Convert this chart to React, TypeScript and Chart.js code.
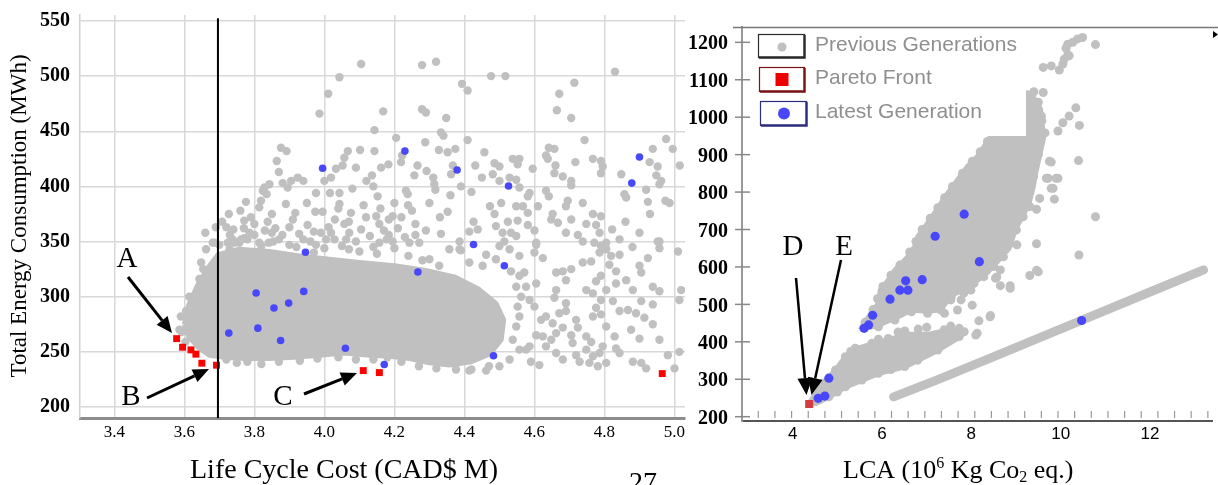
import React, { useEffect, useRef } from "react";
import { Chart, registerables } from "chart.js";
Chart.register(...registerables);

type Pt = [number, number];

// ---------- shared ----------
const seriesLabels = ["Previous Generations", "Pareto Front", "Latest Generation"];
const GRAY = "#c0c0c0";
const BLUE = "rgb(72,72,250)";
const RED = "#ff0000";
const RED2 = "#d23c3c";
const SERIF = '"Liberation Serif", "Times New Roman", serif';
const SANS = '"Liberation Sans", Arial, sans-serif';

// ---------- left chart: Life Cycle Cost vs Energy ----------
const lccTicks = [3.4, 3.6, 3.8, 4.0, 4.2, 4.4, 4.6, 4.8, 5.0];
const energyTicks = [200, 250, 300, 350, 400, 450, 500, 550];

const lccPareto: Pt[] = [
  [3.578, 262], [3.595, 254.2], [3.619, 251.8], [3.633, 247.9], [3.65, 239.7],
  [3.692, 237.9], [4.111, 233], [4.157, 231.2], [4.965, 230.3],
];

const lccLatest: Pt[] = [
  [3.727, 267], [3.805, 303.3], [3.81, 271.5], [3.856, 289.7], [3.898, 294.2],
  [3.875, 260.3], [3.941, 304.8], [3.946, 340.3], [4.06, 253.3], [4.171, 238.5],
  [3.995, 416.4], [4.23, 432], [4.379, 414.9], [4.526, 400.3], [4.267, 322.4],
  [4.426, 347.3], [4.514, 328], [4.483, 246.4], [4.9, 426.7], [4.878, 403],
];

const lccLimit: Pt[] = [[3.696, 190], [3.696, 552.5]];

const lccPreviousCore: Pt[] = [
  [3.6, 275], [3.612, 292], [3.637, 310], [3.665, 325], [3.696, 338], [3.757, 343],
  [3.843, 341], [3.929, 337], [4.014, 334], [4.1, 331], [4.2, 328], [4.286, 324],
  [4.371, 318], [4.44, 307], [4.49, 294], [4.512, 279], [4.505, 261], [4.472, 248],
  [4.42, 241], [4.357, 238], [4.3, 240], [4.243, 244], [4.186, 246], [4.129, 247],
  [4.057, 249], [3.986, 247], [3.914, 245], [3.843, 244], [3.771, 244], [3.714, 245],
  [3.671, 247], [3.64, 254], [3.612, 264], [3.6, 275],
];

const lccPrevious: Pt[] = [
  [4.105, 511], [4.279, 510], [4.043, 499], [4.011, 484], [3.986, 466], [4.168, 468], [4.279, 470], [4.29, 467],
  [4.143, 451], [4.205, 444], [4.288, 440], [3.876, 435], [3.892, 432], [3.864, 423], [4.067, 432], [4.057, 426],
  [4.102, 433], [4.143, 432], [4.222, 428], [4.219, 422], [3.87, 413], [3.924, 408], [3.94, 405], [3.905, 405],
  [3.881, 403], [3.843, 402], [3.829, 399], [3.835, 393], [3.824, 396], [3.895, 399], [3.976, 394], [4.016, 394],
  [4.043, 394], [4.043, 384], [4.09, 417], [4.033, 416], [4.019, 408], [4.052, 419], [4.136, 410], [4.14, 400],
  [4.162, 417], [4.183, 420], [4.257, 410], [4.266, 419], [4.292, 414], [4.233, 396], [4.238, 393], [4.239, 383],
  [4.152, 391], [4.112, 383], [4.076, 376], [4.119, 372], [4.148, 373], [4.184, 370], [4.195, 373], [4.26, 366],
  [4.29, 360], [3.776, 386], [3.819, 387], [3.814, 381], [3.727, 375], [3.708, 368], [3.771, 369], [3.8, 366],
  [3.838, 368], [3.917, 376], [3.974, 377], [3.995, 377], [3.9, 363], [3.952, 365], [3.97, 359], [3.928, 357],
  [4.012, 363], [4.019, 358], [4.029, 352], [4.057, 366], [4.071, 358], [4.105, 361], [4.157, 366], [4.184, 356],
  [4.178, 352], [3.786, 358], [3.762, 352], [3.743, 349], [3.686, 349], [3.724, 349], [3.814, 349], [3.841, 349],
  [3.854, 350], [4.005, 352], [3.976, 347], [4.062, 352], [4.157, 349], [4.195, 350], [4.243, 349], [4.271, 349],
  [4.319, 513], [4.476, 500], [4.517, 500], [4.393, 493], [4.409, 487], [4.83, 504], [4.714, 494], [4.671, 484],
  [4.664, 469], [4.705, 462], [4.348, 462], [4.333, 449], [4.34, 446], [4.409, 442], [4.327, 433], [4.352, 431],
  [4.374, 434], [4.457, 431], [4.311, 408], [4.314, 402], [4.317, 397], [4.39, 400], [4.367, 419], [4.362, 411],
  [4.431, 419], [4.486, 421], [4.5, 418], [4.538, 425], [4.557, 425], [4.552, 420], [4.481, 411], [4.5, 405],
  [4.529, 408], [4.548, 406], [4.557, 399], [4.595, 416], [4.641, 435], [4.657, 434], [4.633, 428], [4.638, 425],
  [4.66, 419], [4.657, 412], [4.681, 409], [4.705, 405], [4.705, 401], [4.717, 422], [4.743, 442], [4.767, 425],
  [4.79, 423], [4.795, 418], [4.79, 412], [4.848, 411], [4.857, 393], [4.862, 390], [4.919, 397], [4.924, 386],
  [4.929, 422], [4.938, 434], [4.952, 418], [4.948, 410], [4.962, 405], [4.957, 402], [4.974, 387], [4.986, 385],
  [4.976, 443], [4.995, 434], [5.015, 419], [4.586, 394], [4.581, 391], [4.633, 396], [4.641, 391], [4.69, 382],
  [4.695, 387], [4.738, 385], [4.473, 382], [4.505, 385], [4.548, 382], [4.567, 382], [4.581, 376], [4.352, 377],
  [4.486, 375], [4.524, 368], [4.552, 369], [4.581, 365], [4.49, 364], [4.509, 358], [4.533, 358], [4.548, 355],
  [4.514, 350], [4.426, 368], [4.414, 359], [4.438, 361], [4.386, 350], [4.333, 357], [4.652, 375], [4.648, 370],
  [4.667, 367], [4.705, 370], [4.767, 375], [4.79, 373], [4.748, 366], [4.776, 365], [4.786, 358], [4.822, 361],
  [4.843, 352], [4.724, 356], [4.738, 350], [4.771, 349], [4.805, 349], [4.957, 350], [5.01, 341], [4.805, 343],
  [4.605, 349], [4.357, 343], [4.39, 342], [4.462, 338],
  [4.605, 347], [4.6, 340], [4.624, 335], [4.662, 322], [4.681, 323], [4.705, 325], [4.69, 315], [4.662, 306],
  [4.657, 299], [4.69, 294], [4.69, 287], [4.738, 331], [4.762, 332], [4.786, 340], [4.79, 346], [4.819, 337],
  [4.843, 338], [4.814, 329], [4.833, 323], [4.79, 319], [4.776, 314], [4.748, 306], [4.767, 303], [4.79, 297],
  [4.805, 306], [4.833, 312], [4.862, 315], [4.881, 306], [4.9, 328], [4.924, 335], [4.905, 322], [4.938, 309],
  [4.957, 305], [4.952, 350], [4.957, 344], [5.019, 306], [5.014, 297], [4.938, 293], [4.905, 296], [4.867, 288],
  [4.89, 285], [4.914, 281], [4.843, 287], [4.824, 296], [4.776, 290], [4.767, 282], [4.79, 284], [4.805, 273],
  [4.829, 264], [4.876, 270], [4.9, 262], [4.938, 275], [4.957, 261], [4.981, 247], [5.014, 250], [5.0, 235],
  [4.919, 235], [4.905, 240], [4.881, 241], [4.843, 249], [4.833, 253], [4.795, 255], [4.786, 249], [4.767, 246],
  [4.748, 252], [4.719, 247], [4.729, 241], [4.709, 258], [4.705, 265], [4.681, 272], [4.662, 267], [4.648, 261],
  [4.633, 255], [4.624, 264], [4.605, 265], [4.619, 279], [4.633, 282], [4.652, 276], [4.671, 285], [4.719, 279],
  [4.724, 272], [4.748, 264], [4.762, 259], [4.805, 240], [4.781, 237], [4.757, 240], [4.681, 243], [4.662, 249],
  [4.614, 238], [4.59, 241], [4.586, 255], [4.576, 252], [4.6, 291], [4.586, 297], [4.576, 309], [4.571, 322],
  [4.605, 312],
  [4.386, 343], [4.5, 346], [4.529, 343], [4.557, 337], [4.3, 334], [4.328, 328], [4.414, 331], [4.452, 328],
  [4.49, 334], [4.533, 323], [4.557, 319], [4.548, 309], [4.562, 300], [4.552, 291], [4.557, 282], [4.548, 273],
  [4.538, 261], [4.557, 252], [4.529, 243], [4.5, 237], [4.462, 233], [4.414, 233], [4.376, 234],
  [3.648, 331], [3.654, 325], [3.681, 349], [3.7, 347], [3.729, 343], [3.643, 316], [3.614, 300], [3.605, 287],
  [3.59, 282], [3.586, 270], [3.662, 343], [3.738, 352], [3.757, 349], [3.771, 353], [3.592, 268], [3.603, 259],
  [3.72, 243], [3.75, 240], [3.78, 241], [3.82, 239], [3.87, 241], [3.93, 242], [3.98, 244], [4.04, 245],
  [4.09, 243], [4.14, 243], [4.18, 245], [4.22, 241], [4.27, 237], [4.32, 235], [4.42, 234], [4.47, 237],
  [3.78, 352], [3.82, 346], [3.87, 352], [3.92, 345], [3.96, 350], [4.0, 344], [4.05, 346], [4.1, 341],
  [4.15, 339], [4.2, 344], [4.24, 337], [4.28, 333],
  [3.66, 358], [3.69, 363], [3.74, 361], [3.85, 358], [3.89, 384], [3.95, 385], [4.0, 405], [4.08, 398],
  [4.12, 405], [4.2, 385], [4.25, 378], [4.3, 385], [4.33, 372], [4.36, 392], [4.42, 395], [4.45, 408],
  [4.61, 382], [4.6, 360], [4.69, 358], [4.86, 368], [4.9, 358], [4.93, 375], [4.88, 345],
  [3.73, 356], [3.77, 362], [3.79, 372], [3.83, 360], [3.86, 362], [3.88, 356], [3.91, 370], [3.94, 352],
  [3.99, 358], [4.03, 370], [4.07, 368], [4.09, 350], [4.13, 355], [4.17, 360], [4.21, 362], [4.23, 354],
  [4.26, 356], [4.14, 345], [4.07, 343], [3.97, 340], [3.9, 347], [3.8, 356], [3.72, 363], [3.76, 378],
  [3.85, 375], [4.04, 380], [4.16, 380], [4.22, 372],
];

// ---------- right chart: LCA vs Energy ----------
const lcaTicks = [4, 6, 8, 10, 12];
const lcaEnergyTicks = [200, 300, 400, 500, 600, 700, 800, 900, 1000, 1100, 1200];

const lcaPareto: Pt[] = [[4.37, 234]];

const lcaLatest: Pt[] = [
  [7.84, 741], [7.19, 682], [8.18, 614], [6.9, 566], [6.53, 563], [6.4, 538], [6.58, 538],
  [6.18, 514], [5.79, 471], [5.7, 445], [5.6, 436], [4.81, 303], [4.72, 255], [4.57, 249], [10.47, 457],
];

const lcaUpperCore: Pt[] = [
  [5.51, 432], [5.7, 467], [5.92, 503], [5.96, 538], [6.14, 565], [6.29, 592], [6.58, 627], [6.73, 654],
  [6.8, 681], [7.02, 717], [7.17, 743], [7.32, 770], [7.47, 797], [7.69, 832], [7.91, 868], [8.13, 894],
  [8.28, 921], [8.43, 948], [8.65, 979], [8.91, 1020], [9.18, 1051], [9.35, 1062], [9.55, 1022], [9.62, 945],
  [9.45, 856], [9.38, 810], [9.28, 765], [9.0, 703], [8.84, 649], [8.5, 603], [8.28, 576], [7.85, 541],
  [7.54, 523], [7.31, 484], [6.96, 482], [6.65, 484], [6.3, 463], [5.92, 445], [5.51, 432],
];

const lcaLowerCore: Pt[] = [
  [4.37, 236], [4.67, 289], [4.96, 325], [5.18, 360], [5.4, 381], [5.77, 394], [6.14, 406], [6.58, 420],
  [7.02, 420], [7.39, 429], [7.73, 432], [7.84, 425], [7.73, 412], [7.25, 377], [6.8, 350], [6.51, 333],
  [5.92, 315], [5.55, 297], [5.18, 279], [4.81, 252], [4.52, 235], [4.37, 236],
];

const lcaBand: Pt[] = [[6.26, 253], [7.25, 299], [8.6, 365], [10.48, 458], [12.0, 533], [13.2, 592]];

const lcaPrevious: Pt[] = [
  [5.62, 452], [5.8, 486], [5.9, 515], [6.02, 548], [6.2, 578], [6.4, 605], [6.62, 640], [6.76, 668],
  [6.9, 700], [7.08, 730], [7.25, 758], [7.4, 785], [7.58, 815], [7.8, 850], [8.02, 882], [8.2, 908],
  [8.36, 935], [8.52, 962],
  [9.39, 841], [9.31, 761], [9.16, 734], [9.01, 699], [8.87, 663], [8.72, 627], [8.5, 601], [8.28, 574],
  [8.06, 556], [7.83, 530], [7.54, 512], [7.32, 485], [7.02, 476], [6.66, 480], [6.29, 458], [5.92, 440],
  [9.5, 900], [9.58, 990], [9.5, 1040], [9.4, 1068], [9.25, 1060],
  [10.49, 1213], [10.78, 1194], [10.38, 1209], [10.27, 1200], [10.16, 1195], [10.12, 1184], [10.16, 1166],
  [10.19, 1164], [10.08, 1155], [10.05, 1142], [9.97, 1126], [9.79, 1137], [9.61, 1133], [9.61, 1066],
  [9.31, 1049], [9.46, 998], [9.57, 1003], [9.39, 985], [9.24, 963], [9.39, 936], [9.65, 958], [10.34, 1025],
  [10.42, 978], [10.19, 1003], [10.05, 985], [9.94, 963], [9.79, 880], [10.4, 884], [9.72, 837], [9.94, 837],
  [9.79, 810], [9.86, 781], [9.46, 754], [10.78, 734], [9.75, 882], [9.68, 837], [9.9, 837], [9.83, 810],
  [9.53, 783], [9.46, 662], [9.31, 577], [9.46, 591], [8.87, 550], [8.65, 550], [8.57, 573], [8.43, 470],
  [8.17, 456], [8.13, 423], [10.41, 632], [9.02, 659], [9.5, 587], [8.65, 592], [8.54, 570], [8.87, 543],
  [8.42, 467], [8.1, 418], [8.02, 498], [8.35, 592], [7.55, 520], [7.77, 512], [7.99, 538], [7.4, 476],
  [7.69, 485],
  [4.67, 289], [4.96, 325], [5.18, 360], [5.4, 383], [5.77, 396], [6.14, 409], [6.36, 426], [6.51, 429],
  [6.81, 434], [7.0, 439], [7.39, 432], [7.54, 442], [7.73, 436], [5.3, 374], [5.92, 407],
  [4.81, 253], [5.18, 280], [5.55, 298], [5.92, 316], [6.51, 334], [6.8, 351], [7.25, 378], [7.73, 414],
  [7.84, 427], [6.2, 326], [5.0, 266],
];

// ---------- helpers ----------
const xy = (a: Pt[]) => a.map(([x, y]) => ({ x, y }));

function drawArrow(
  ctx: CanvasRenderingContext2D, x1: number, y1: number, x2: number, y2: number,
  lw: number, head: number, half: number
) {
  const ang = Math.atan2(y2 - y1, x2 - x1);
  const bx = x2 - head * Math.cos(ang);
  const by = y2 - head * Math.sin(ang);
  ctx.beginPath();
  ctx.moveTo(x1, y1);
  ctx.lineTo(bx, by);
  ctx.lineWidth = lw;
  ctx.strokeStyle = "#000";
  ctx.stroke();
  ctx.beginPath();
  ctx.moveTo(x2, y2);
  ctx.lineTo(bx + half * Math.sin(ang), by - half * Math.cos(ang));
  ctx.lineTo(bx - half * Math.sin(ang), by + half * Math.cos(ang));
  ctx.closePath();
  ctx.fillStyle = "#000";
  ctx.fill();
}

const leftDecor = {
  id: "leftDecor",
  afterDraw(chart: any) {
    const ctx: CanvasRenderingContext2D = chart.ctx;
    ctx.save();
    ctx.fillStyle = "#000";
    ctx.save();
    ctx.translate(20, 216);
    ctx.rotate(-Math.PI / 2);
    ctx.font = `23px ${SERIF}`;
    ctx.textAlign = "center";
    ctx.textBaseline = "middle";
    ctx.fillText("Total Energy Consumption (MWh)", 0, 0);
    ctx.restore();
    ctx.textAlign = "center";
    ctx.textBaseline = "alphabetic";
    ctx.font = `28px ${SERIF}`;
    ctx.fillText("Life Cycle Cost (CAD$ M)", 344, 478);
    ctx.fillText("27", 643, 491);
    ctx.font = `29px ${SERIF}`;
    ctx.fillText("A", 127, 267);
    ctx.fillText("B", 131, 405);
    ctx.fillText("C", 283, 405);
    drawArrow(ctx, 128, 277, 172, 333, 3, 16, 7);
    drawArrow(ctx, 147, 398, 209, 369, 3, 16, 7);
    drawArrow(ctx, 304, 394, 357, 373, 3, 16, 7);
    ctx.restore();
  },
};

const RIGHT_LEFT = 685;

const rightDecor = {
  id: "rightDecor",
  afterDatasetsDraw(chart: any) {
    const ctx: CanvasRenderingContext2D = chart.ctx;
    ctx.save();
    ctx.translate(-RIGHT_LEFT, 0);
    ctx.fillStyle = "#fff";
    ctx.fillRect(751, 28.5, 275, 107.5);
    const rows = [
      { box: [758, 34, 46, 23], border: "#2a2a2a", y: 45.5 },
      { box: [759, 67, 45, 24], border: "#7a1414", y: 78.5 },
      { box: [760, 101, 46, 24], border: "#2c2c80", y: 112 },
    ];
    rows.forEach((r, i) => {
      const [bx, by, bw, bh] = r.box;
      ctx.fillStyle = "#fff";
      ctx.fillRect(bx, by, bw, bh);
      ctx.strokeStyle = r.border;
      ctx.lineWidth = 1.2;
      ctx.strokeRect(bx + 0.5, by + 0.5, bw, bh);
      ctx.lineWidth = 2.4;
      ctx.beginPath();
      ctx.moveTo(bx + 1, by + bh + 0.5);
      ctx.lineTo(bx + bw + 0.5, by + bh + 0.5);
      ctx.lineTo(bx + bw + 0.5, by + 1);
      ctx.stroke();
      const cx = bx + 24;
      const cy = by + bh / 2 + 0.5;
      if (i === 0) {
        ctx.fillStyle = GRAY;
        ctx.beginPath();
        ctx.arc(cx, cy + 1, 4.5, 0, Math.PI * 2);
        ctx.fill();
      } else if (i === 1) {
        ctx.fillStyle = "#ee0000";
        ctx.fillRect(cx - 7.5, cy - 6.5, 13, 13);
      } else {
        ctx.fillStyle = BLUE;
        ctx.beginPath();
        ctx.arc(cx, cy, 6, 0, Math.PI * 2);
        ctx.fill();
      }
      ctx.fillStyle = "#8f8f8f";
      ctx.font = `21px ${SANS}`;
      ctx.textAlign = "left";
      ctx.textBaseline = "middle";
      ctx.fillText(seriesLabels[i], 815, r.y);
    });
    ctx.restore();
  },
  afterDraw(chart: any) {
    const ctx: CanvasRenderingContext2D = chart.ctx;
    const ys = chart.scales.y;
    ctx.save();
    ctx.translate(-RIGHT_LEFT, 0);
    ctx.strokeStyle = "#777";
    ctx.lineWidth = 1.5;
    ctx.beginPath();
    ctx.moveTo(733, 27.5);
    ctx.lineTo(1218, 27.5);
    ctx.stroke();
    ctx.strokeStyle = "#888";
    ctx.lineWidth = 1.5;
    lcaEnergyTicks.forEach((v) => {
      const py = ys.getPixelForValue(v);
      ctx.beginPath();
      ctx.moveTo(735, py);
      ctx.lineTo(750, py);
      ctx.stroke();
    });
    ctx.strokeStyle = "#999";
    ctx.lineWidth = 1.2;
    for (let px = 758.3; px < 1216; px += 16.65) {
      ctx.beginPath();
      ctx.moveTo(px, 411);
      ctx.lineTo(px, 418);
      ctx.stroke();
    }
    ctx.fillStyle = "#000";
    ctx.font = `29px ${SERIF}`;
    ctx.textAlign = "center";
    ctx.textBaseline = "alphabetic";
    ctx.fillText("D", 793, 255);
    ctx.fillText("E", 844, 255);
    drawArrow(ctx, 796, 278, 806.5, 395, 2.5, 17, 7.5);
    drawArrow(ctx, 841, 260, 811.5, 395, 2.5, 17, 7.5);
    ctx.textAlign = "left";
    let x = 843;
    const base = 478;
    const parts: [string, number, number][] = [
      ["LCA (10", 26, 0], ["6", 16, -10], [" Kg Co", 26, 0], ["2", 16, 4], [" eq.)", 26, 0],
    ];
    parts.forEach(([t, s, dy]) => {
      ctx.font = `${s}px ${SERIF}`;
      ctx.fillText(t, x, base + dy);
      x += ctx.measureText(t).width;
    });
    ctx.beginPath();
    ctx.moveTo(1213, 31);
    ctx.lineTo(1218, 34.5);
    ctx.lineTo(1213, 38);
    ctx.closePath();
    ctx.fill();
    ctx.restore();
  },
};

const fitY = (w: number) => (s: any) => {
  s.width = w;
  s.paddingTop = 0;
  s.paddingBottom = 0;
};
const fitX = (h: number) => (s: any) => {
  s.height = h;
  s.paddingLeft = 0;
  s.paddingRight = 0;
};

export default function App() {
  const leftRef = useRef<HTMLCanvasElement>(null);
  const rightRef = useRef<HTMLCanvasElement>(null);

  useEffect(() => {
    document.body.style.margin = "0";
    const pointDs = (label: string, data: Pt[], color: string, r: number, order: number, style = "circle") => ({
      label, data: xy(data), backgroundColor: color, pointBackgroundColor: color,
      pointRadius: r, pointBorderWidth: 0, pointStyle: style, order,
    });
    const shapeDs = (label: string, data: Pt[], order: number) => ({
      label, data: xy(data), showLine: true, fill: "shape", backgroundColor: GRAY, borderColor: GRAY,
      borderWidth: 5, borderJoinStyle: "round", pointRadius: 0, tension: 0, order,
    });

    const left = new Chart(leftRef.current!, {
      type: "scatter",
      data: {
        datasets: [
          { label: "limit", data: xy(lccLimit), showLine: true, borderColor: "#000", borderWidth: 2, pointRadius: 0, order: 0 },
          pointDs(seriesLabels[1], lccPareto, RED, 4.9, 1, "rect"),
          pointDs(seriesLabels[2], lccLatest, BLUE, 3.8, 2),
          pointDs(seriesLabels[0], lccPrevious, GRAY, 4.2, 3),
          shapeDs("core", lccPreviousCore, 4),
        ] as any,
      },
      options: {
        responsive: false,
        animation: false,
        devicePixelRatio: 1,
        events: [],
        layout: { padding: { top: 15, right: 5, left: 0, bottom: 0 } },
        plugins: { legend: { display: false }, tooltip: { enabled: false } },
        scales: {
          x: {
            type: "linear", min: 3.302, max: 5.03,
            afterBuildTicks: (s: any) => { s.ticks = lccTicks.map((value) => ({ value })); },
            afterFit: fitX(67),
            grid: { color: "#d8d8d8", lineWidth: 1.5, drawTicks: false },
            border: { color: "#8c8c8c", width: 3 },
            ticks: { padding: 4, color: "#000", font: { family: SERIF, size: 17 }, callback: (v: any) => Number(v).toFixed(1), maxRotation: 0 },
          },
          y: {
            type: "linear", min: 190.03, max: 555.4,
            afterBuildTicks: (s: any) => { s.ticks = energyTicks.map((value) => ({ value })); },
            afterFit: fitY(80),
            grid: { color: "#d8d8d8", lineWidth: 1.5, drawTicks: false },
            border: { color: "#d0d0d0", width: 1.5 },
            ticks: { padding: 10, color: "#000", font: { family: SERIF, size: 20, weight: "bold" }, callback: (v: any) => String(v) },
          },
        },
      } as any,
      plugins: [leftDecor as any],
    });

    const right = new Chart(rightRef.current!, {
      type: "scatter",
      data: {
        datasets: [
          pointDs(seriesLabels[1], lcaPareto, RED2, 5.7, 1, "rect"),
          pointDs(seriesLabels[2], lcaLatest, BLUE, 4.6, 2),
          pointDs(seriesLabels[0], lcaPrevious, GRAY, 4.5, 3),
          shapeDs("upper", lcaUpperCore, 4),
          shapeDs("lower", lcaLowerCore, 4),
          { label: "band", data: xy(lcaBand), showLine: true, borderColor: GRAY, borderWidth: 9, borderCapStyle: "round", pointRadius: 0, order: 4 },
        ] as any,
      },
      options: {
        responsive: false,
        animation: false,
        devicePixelRatio: 1,
        events: [],
        layout: { padding: { top: 27, right: 0, left: 0, bottom: 0 } },
        plugins: { legend: { display: false }, tooltip: { enabled: false } },
        scales: {
          x: {
            type: "linear", min: 2.865, max: 13.396,
            afterBuildTicks: (s: any) => { s.ticks = lcaTicks.map((value) => ({ value })); },
            afterFit: fitX(64),
            grid: { display: false, drawTicks: false },
            border: { color: "#555", width: 2 },
            ticks: { padding: 3, color: "#000", font: { family: SANS, size: 17 }, maxRotation: 0, callback: (v: any) => String(v) },
          },
          y: {
            type: "linear", min: 188.5, max: 1240.9,
            afterBuildTicks: (s: any) => { s.ticks = lcaEnergyTicks.map((value) => ({ value })); },
            afterFit: fitY(57),
            grid: { display: false, drawTicks: false },
            border: { color: "#999", width: 2 },
            ticks: { padding: 14, labelOffset: 2, color: "#000", font: { family: SERIF, size: 20, weight: "bold" }, callback: (v: any) => String(v) },
          },
        },
      } as any,
      plugins: [rightDecor as any],
    });

    return () => {
      left.destroy();
      right.destroy();
    };
  }, []);

  return (
    <div style={{ position: "relative", width: 1218, height: 485, overflow: "hidden", background: "#fff" }}>
      <canvas ref={leftRef} width={690} height={485} style={{ position: "absolute", left: 0, top: 0 }} />
      <canvas ref={rightRef} width={533} height={485} style={{ position: "absolute", left: RIGHT_LEFT, top: 0 }} />
    </div>
  );
}
